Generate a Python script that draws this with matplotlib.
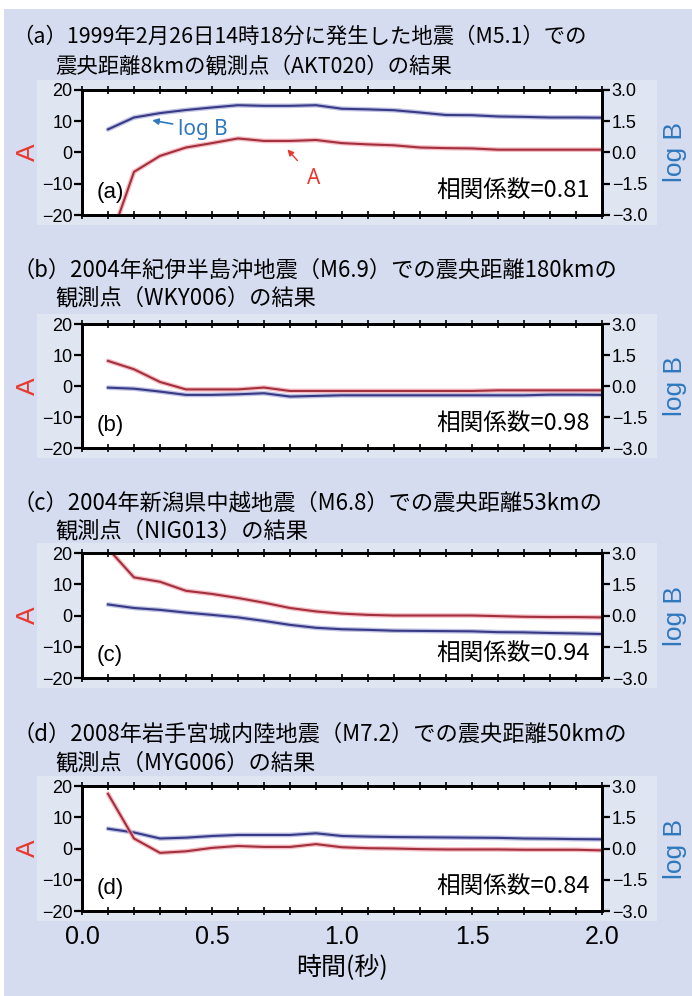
import numpy as np
import matplotlib
matplotlib.use("Agg")
import matplotlib.pyplot as plt
from matplotlib.patches import Rectangle
from matplotlib.ticker import FixedLocator, FixedFormatter

plt.rcParams['font.family'] = ['Liberation Sans Narrow', 'Liberation Sans', 'Noto Sans CJK JP', 'DejaVu Sans']
CJK = ['Noto Sans CJK JP', 'DejaVu Sans']
NUM = ['Liberation Sans Narrow', 'Liberation Sans', 'DejaVu Sans']
SANS = ['Liberation Sans', 'DejaVu Sans']

# time axis (s)
t = [0.1, 0.2, 0.3, 0.4, 0.5, 0.6, 0.7, 0.8, 0.9, 1.0,
     1.1, 1.2, 1.3, 1.4, 1.5, 1.6, 1.7, 1.8, 1.9, 2.0]

# (a) AKT020
a_A = [-30.0, -6.2, -1.1, 1.6, 3.0, 4.5, 3.7, 3.7, 4.0, 3.0,
       2.6, 2.3, 1.6, 1.4, 1.3, 0.9, 0.9, 0.9, 0.9, 0.9]
a_logB = [1.11, 1.68, 1.89, 2.04, 2.16, 2.27, 2.24, 2.24, 2.27, 2.10,
          2.07, 2.03, 1.92, 1.80, 1.79, 1.73, 1.71, 1.68, 1.68, 1.67]
# (b) WKY006
b_A = [8.1, 5.4, 1.3, -1.1, -1.1, -1.1, -0.5, -1.6, -1.6, -1.6,
       -1.6, -1.6, -1.6, -1.6, -1.6, -1.4, -1.4, -1.4, -1.4, -1.4]
b_logB = [-0.08, -0.13, -0.27, -0.43, -0.43, -0.40, -0.35, -0.51, -0.48, -0.45,
          -0.45, -0.45, -0.45, -0.45, -0.45, -0.45, -0.45, -0.42, -0.42, -0.43]
# (c) NIG013
c_A = [21.4, 12.2, 10.8, 7.9, 6.9, 5.6, 4.1, 2.4, 1.3, 0.6,
       0.2, 0.0, 0.0, 0.0, 0.0, -0.2, -0.4, -0.5, -0.5, -0.6]
c_logB = [0.53, 0.36, 0.27, 0.14, 0.03, -0.09, -0.26, -0.45, -0.59, -0.66,
          -0.69, -0.73, -0.74, -0.75, -0.76, -0.80, -0.81, -0.84, -0.86, -0.89]
# (d) MYG006
d_A = [17.5, 3.2, -1.4, -0.9, 0.2, 0.8, 0.5, 0.5, 1.4, 0.4,
       0.1, 0.0, -0.2, -0.3, -0.3, -0.3, -0.4, -0.4, -0.4, -0.6]
d_logB = [0.95, 0.77, 0.48, 0.52, 0.60, 0.65, 0.65, 0.65, 0.73, 0.60,
          0.57, 0.55, 0.54, 0.53, 0.52, 0.51, 0.48, 0.47, 0.45, 0.44]

panel_letters = ['(a)', '(b)', '(c)', '(d)']
correlations = ['0.81', '0.98', '0.94', '0.84']
titles = [
    ['（a）1999年2月26日14時18分に発生した地震（M5.1）での', '震央距離8kmの観測点（AKT020）の結果'],
    ['（b）2004年紀伊半島沖地震（M6.9）での震央距離180kmの', '観測点（WKY006）の結果'],
    ['（c）2004年新潟県中越地震（M6.8）での震央距離53kmの', '観測点（NIG013）の結果'],
    ['（d）2008年岩手宮城内陸地震（M7.2）での震央距離50kmの', '観測点（MYG006）の結果'],
]
A_series = [a_A, b_A, c_A, d_A]
B_series = [a_logB, b_logB, c_logB, d_logB]

A_ticks = [-20, -10, 0, 10, 20]
A_ticklabels = ['−20', '−10', '0', '10', '20']
B_ticks = [-3.0, -1.5, 0.0, 1.5, 3.0]
B_ticklabels = ['−3.0', '−1.5', '0.0', '1.5', '3.0']
x_ticks = [round(0.1 * i, 1) for i in range(21)]
x_ticklabels = ['0.0', '0.5', '1.0', '1.5', '2.0']

RED_LINE = '#a3303d'
RED_GLOW = '#f2a3ae'
BLUE_LINE = '#383a86'
BLUE_GLOW = '#a6aad8'
RED_TXT = '#e8392f'
BLUE_TXT = '#2f78be'

W, H = 692, 996
fig = plt.figure(figsize=(W / 100, H / 100), dpi=100)
fig.patch.set_facecolor('white')
fig.patches.append(Rectangle((4 / W, 0), 1 - 4 / W, 1 - 9 / H, transform=fig.transFigure,
                             facecolor='#d6dcef', edgecolor='none', zorder=-10))

# pixel rows of each axes box (top, bottom)
rows = [(90, 215), (324, 448), (553, 678), (786, 911)]
title_rows = [(37, 66), (270, 298), (503, 531), (734, 763)]
title_sizes = [15.4, 16, 16, 16]
x0, x1 = 82, 602

for i in range(4):
    top, bot = rows[i]
    # lighter backing panel
    fig.patches.append(Rectangle((37 / W, 1 - (bot + 10) / H), (657 - 37) / W, (bot - top + 20) / H,
                                 transform=fig.transFigure, facecolor='#e0e5f2',
                                 edgecolor='none', zorder=-9))
    ax = fig.add_axes([x0 / W, 1 - bot / H, (x1 - x0) / W, (bot - top) / H])
    ax2 = ax.twinx()
    ax.set_zorder(ax2.get_zorder() + 1)
    ax.patch.set_visible(False)
    ax2.patch.set_visible(True)
    ax2.patch.set_facecolor('white')

    ax.set_xlim(0, 2.0)
    ax.set_ylim(-20, 20)
    ax2.set_ylim(-3, 3)

    # curves: soft halo under a thin core
    ax2.plot(t, B_series[i], color=BLUE_GLOW, lw=3.4, alpha=0.7, solid_capstyle='round')
    ax2.plot(t, B_series[i], color=BLUE_LINE, lw=1.5)
    ax.plot(t, A_series[i], color=RED_GLOW, lw=3.4, alpha=0.7, solid_capstyle='round')
    ax.plot(t, A_series[i], color=RED_LINE, lw=1.5)

    ax.yaxis.set_major_locator(FixedLocator(A_ticks))
    ax.yaxis.set_major_formatter(FixedFormatter(A_ticklabels))
    ax2.yaxis.set_major_locator(FixedLocator(B_ticks))
    ax2.yaxis.set_major_formatter(FixedFormatter(B_ticklabels))
    ax.xaxis.set_major_locator(FixedLocator(x_ticks))
    if i == 3:
        ax.xaxis.set_major_formatter(FixedFormatter(
            [x_ticklabels[k // 5] if k % 5 == 0 else '' for k in range(21)]))
    else:
        ax.xaxis.set_major_formatter(FixedFormatter([''] * 21))

    for sp in list(ax.spines.values()) + list(ax2.spines.values()):
        sp.set_linewidth(2.0)
        sp.set_color('black')
    ax.tick_params(axis='y', direction='out', length=6, width=1.6, labelsize=13,
                   pad=1, colors='black')
    ax2.tick_params(axis='y', direction='out', length=6, width=1.6, labelsize=13,
                    pad=1, colors='black')
    ax.tick_params(axis='x', direction='inout', length=6, width=1.2, top=True,
                   labelsize=18, pad=7)
    for lab in ax.get_yticklabels() + ax2.get_yticklabels() + ax.get_xticklabels():
        lab.set_family(NUM)

    ax.set_ylabel('A', color=RED_TXT, fontsize=19, family=SANS)
    ax.yaxis.set_label_coords(-0.081, 0.5)
    ax2.set_ylabel('log B', color=BLUE_TXT, fontsize=19, family=SANS, rotation=90)
    ax2.yaxis.set_label_coords(1.117, 0.5)

    ax.text(0.058, -12.9, panel_letters[i], fontsize=16, family=SANS, ha='left',
            va='center')
    ax.text(1.955, -12.3, '相関係数=' + correlations[i], fontsize=17, family=CJK,
            ha='right', va='center')

    t1, t2 = title_rows[i]
    fig.text(12 / W, 1 - t1 / H, titles[i][0], fontsize=title_sizes[i], family=CJK,
             va='center', ha='left')
    fig.text(55 / W, 1 - t2 / H, titles[i][1], fontsize=title_sizes[i], family=CJK,
             va='center', ha='left')

    if i == 0:
        ax.annotate('log B', xy=(0.27, 10.3), xytext=(0.37, 7.4), color=BLUE_TXT,
                    fontsize=15, family=['Noto Sans', 'DejaVu Sans'], va='center', ha='left',
                    arrowprops=dict(arrowstyle='-|>', color=BLUE_TXT, lw=1.2,
                                    shrinkA=2, shrinkB=0, mutation_scale=9))
        ax.annotate('A', xy=(0.79, 1.0), xytext=(0.89, -8.3), color=RED_TXT,
                    fontsize=15, family=['Noto Sans', 'DejaVu Sans'], va='center', ha='center',
                    arrowprops=dict(arrowstyle='-|>', color=RED_TXT, lw=1.0,
                                    shrinkA=7, shrinkB=0, mutation_scale=9))
    if i == 3:
        ax.set_xlabel('時間(秒)', fontsize=18, family=CJK, labelpad=4)

fig.savefig('out.png', dpi=100, facecolor=fig.get_facecolor())
